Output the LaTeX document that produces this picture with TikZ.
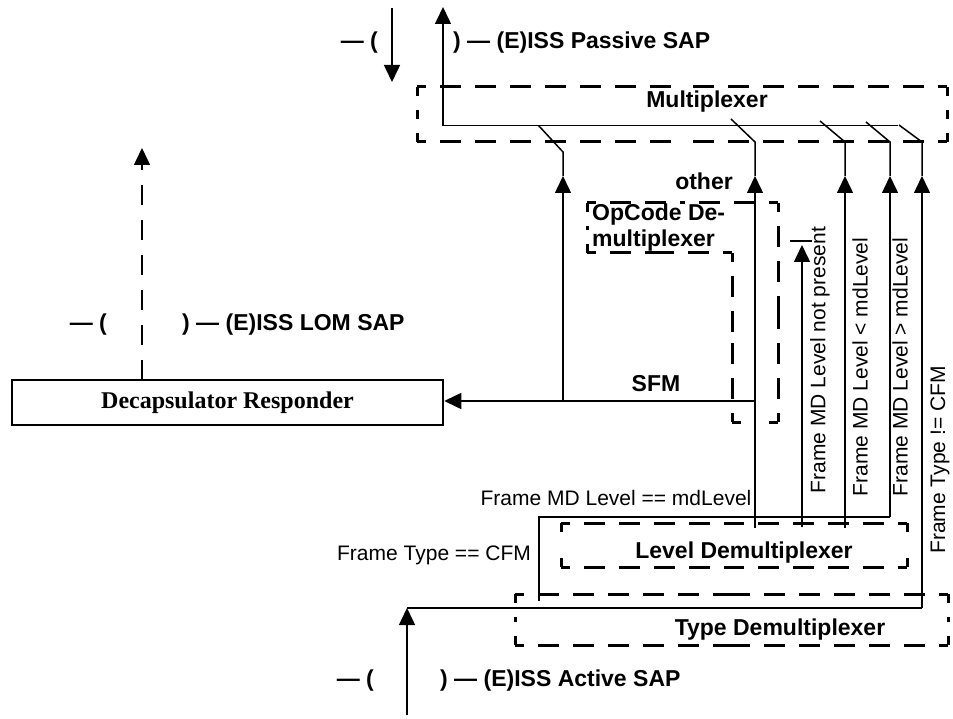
\documentclass[tikz,border=0pt]{standalone}
\usepackage{fontspec}
\setmainfont{Liberation Sans}
\newfontfamily\tnr{Liberation Serif}
\usetikzlibrary{arrows.meta,calc}
\tikzset{
  wire/.style={line width=1.5pt},
  arr/.style={wire,-{Triangle[length=17pt,width=16pt]}},
  dbox/.style={line width=3pt, dash pattern=on 21pt off 14pt, dash phase=12pt},
  lomdash/.style={dash pattern=on 20pt off 15pt},
  lab/.style={font=\fontsize{21}{25}\selectfont, inner sep=0pt},
  blab/.style={font=\bfseries\fontsize{23}{26}\selectfont, inner sep=0pt},
}
\newcommand\dseg[2]{\draw[dbox] (#1) -- ($(#1)!0.5!(#2)$); \draw[dbox] (#2) -- ($(#1)!0.5!(#2)$);}
\begin{document}
\begin{tikzpicture}[x=1pt,y=-1pt]
\useasboundingbox (0,0) rectangle (953,719);

% ---------- dashed boxes ----------
\coordinate (m1) at (417,87);  \coordinate (m2) at (947,87);
\coordinate (m3) at (947,142); \coordinate (m4) at (417,142);
\dseg{m1}{m2}\dseg{m2}{m3}\dseg{m3}{m4}\dseg{m4}{m1}

\coordinate (o1) at (587,203); \coordinate (o2) at (778,203);
\coordinate (o3) at (778,422); \coordinate (o4) at (732,422);
\coordinate (o5) at (732,253); \coordinate (o6) at (587,253);
\dseg{o1}{o2}\dseg{o2}{o3}\dseg{o3}{o4}\dseg{o4}{o5}\dseg{o5}{o6}\dseg{o6}{o1}

\coordinate (l1) at (561,523); \coordinate (l2) at (907,523);
\coordinate (l3) at (907,567); \coordinate (l4) at (561,567);
\dseg{l1}{l2}\dseg{l2}{l3}\dseg{l3}{l4}\dseg{l4}{l1}

\coordinate (t1) at (515,594); \coordinate (t2) at (948,594);
\coordinate (t3) at (948,645); \coordinate (t4) at (515,645);
\dseg{t1}{t2}\dseg{t2}{t3}\dseg{t3}{t4}\dseg{t4}{t1}

% ---------- box labels ----------
\node[blab] (mux) at (707,102) {Multiplexer};
\node[blab, anchor=west, align=left] (opc) at (592,227.5) {OpCode De-\\multiplexer};
\node[blab] (lvl) at (744,553) {Level Demultiplexer};
\node[blab] (typ) at (780,630) {Type Demultiplexer};

% ---------- decapsulator ----------
\node[draw, line width=2.5pt, minimum width=431pt, minimum height=45pt, inner sep=0pt,
      font=\tnr\bfseries\fontsize{24}{28}\selectfont] (decap) at (227.5,402.5) {Decapsulator Responder};

% ---------- passive SAP ----------
\coordinate (pdTop) at (392,8);   \coordinate (pdTip) at (392,82);
\coordinate (puTip) at (443,7);   \coordinate (busL) at (443,125.6);
\coordinate (busR) at (898,125.6);
\draw[arr] (pdTop) -- (pdTip);
\draw[arr] (busL) -- (puTip);
\draw[wire] (busL) -- (busR);
\node[blab, anchor=east] (pL) at (378,43) {— (};
\node[blab, anchor=west] (pR) at (453,43) {) — (E)ISS Passive SAP};

% ---------- LOM SAP ----------
\coordinate (lomB) at (142,380); \coordinate (lomTip) at (142,148);
\draw[arr, lomdash] (lomB) -- (lomTip);
\node[blab, anchor=east] (lL) at (107,325) {— (};
\node[blab, anchor=west] (lR) at (182,325) {) — (E)ISS LOM SAP};

% ---------- columns to multiplexer ----------
% col1 (SFM)
\coordinate (c1b) at (563,401); \coordinate (c1a) at (563,176);
\coordinate (c1t) at (563,152); \coordinate (c1s) at (538.6,125.6);
\draw[arr] (c1b) -- (c1a); \draw[wire] (c1a) -- (c1t) -- (c1s);
% col2 (other)
\coordinate (c2b) at (755,528); \coordinate (c2a) at (755,176);
\coordinate (c2t) at (755,142); \coordinate (c2s) at (731,119);
\draw[arr] (c2b) -- (c2a); \draw[wire] (c2a) -- (c2t) -- (c2s);
% col3
\coordinate (c3b) at (845,528); \coordinate (c3a) at (845,176);
\coordinate (c3t) at (845,142); \coordinate (c3s) at (820,121);
\draw[arr] (c3b) -- (c3a); \draw[wire] (c3a) -- (c3t) -- (c3s);
% col4
\coordinate (c4b) at (890,517); \coordinate (c4a) at (890,176);
\coordinate (c4t) at (890,142); \coordinate (c4s) at (866,122);
\draw[arr] (c4b) -- (c4a); \draw[wire] (c4a) -- (c4t) -- (c4s);
% col5
\coordinate (c5b) at (922,608); \coordinate (c5a) at (922,176);
\coordinate (c5t) at (922,142); \coordinate (c5s) at (899,125);
\draw[arr] (c5b) -- (c5a); \draw[wire] (c5a) -- (c5t) -- (c5s);

% not present (blocked)
\coordinate (npb) at (802,527); \coordinate (npTip) at (802,245);
\draw[arr] (npb) -- (npTip);
\coordinate (bar1) at (790,241); \coordinate (bar2) at (812,241);
\draw[wire] (bar1) -- (bar2);

% SFM to decapsulator
\coordinate (sfmR) at (755,401);
\draw[arr] (sfmR) -- (sfmR -| decap.east);

% level demux output line
\coordinate (lvA) at (539,601); \coordinate (lvB) at (539,517);
\draw[wire] (lvA) -- (lvB) -- (c4b);

% active SAP
\coordinate (actB) at (407,715); \coordinate (actT) at (407,608);
\draw[arr] (actB) -- (actT);
\draw[wire] (actT) -- (c5b);
\node[blab, anchor=east] (aL) at (374,681) {— (};
\node[blab, anchor=west] (aR) at (440,681) {) — (E)ISS Active SAP};

% ---------- labels ----------
\node[blab] (other) at (704,181) {other};
\node[blab] (sfm) at (656,384) {SFM};
\node[lab] (eqlev) at (616,498) {Frame MD Level == mdLevel};
\node[lab] (eqcfm) at (434,555) {Frame Type == CFM};
\node[lab, rotate=90] (np) at (820,360) {Frame MD Level not present};
\node[lab, rotate=90] (lt) at (860,367) {Frame MD Level < mdLevel};
\node[lab, rotate=90] (gt) at (900,367) {Frame MD Level > mdLevel};
\node[lab, rotate=90] (ne) at (940,460) {Frame Type != CFM};
\end{tikzpicture}
\end{document}
